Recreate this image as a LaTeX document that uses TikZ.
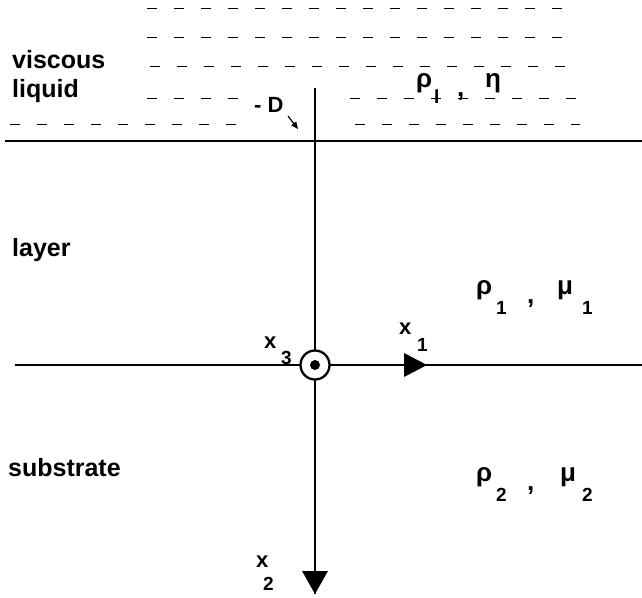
\documentclass[tikz,border=0pt]{standalone}
\usepackage{fontspec}
\setmainfont{Liberation Sans}
\usetikzlibrary{arrows.meta}
\begin{document}
\begin{tikzpicture}[x=1pt,y=-1pt,
  lbl/.style={font=\fontsize{25}{28}\selectfont\bfseries, inner sep=0pt, anchor=base west},
  grk/.style={font=\fontsize{26}{30}\selectfont\bfseries, inner sep=0pt, anchor=base west},
  xl/.style={font=\fontsize{22}{26}\selectfont\bfseries, inner sep=0pt, anchor=base west},
  sub/.style={font=\fontsize{19}{22}\selectfont\bfseries, inner sep=0pt, anchor=base west},
  liq/.style={line width=0.9pt, dash pattern=on 10pt off 17pt},
  axis/.style={line width=1.7pt},
  tri/.style={fill=black, draw=none}]
\useasboundingbox (0,0) rectangle (642,597);
% dashed liquid rows
\coordinate (r1a) at (147,8);   \coordinate (r1b) at (577,8);
\coordinate (r2a) at (147,37);  \coordinate (r2b) at (577,37);
\coordinate (r3a) at (150,66);  \coordinate (r3b) at (582,66);
\coordinate (r4a) at (147,98);  \coordinate (r4b) at (240,98);
\coordinate (r4c) at (350,98);  \coordinate (r4d) at (577,98);
\coordinate (r5a) at (10,124);  \coordinate (r5b) at (240,124);
\coordinate (r5c) at (355,124); \coordinate (r5d) at (580,124);
\draw[liq] (r1a) -- (r1b);
\draw[liq] (r2a) -- (r2b);
\draw[liq] (r3a) -- (r3b);
\draw[liq] (r4a) -- (r4b);
\draw[liq] (r4c) -- (r4d);
\draw[liq] (r5a) -- (r5b);
\draw[liq] (r5c) -- (r5d);
% interface and axes
\coordinate (ifL) at (5,141);   \coordinate (ifR) at (642,141);
\coordinate (vTop) at (315,88); \coordinate (vBot) at (315,594);
\coordinate (hL) at (15,365);   \coordinate (hR) at (642,365);
\coordinate (O) at (315,365);
\draw[axis] (ifL) -- (ifR);
\draw[axis] (hL) -- (hR);
\draw[axis] (vTop) -- (vBot);
% arrowheads
\fill[tri] (302,571) -- (328,571) -- (315,594) -- cycle;
\fill[tri] (404,353) -- (427,365) -- (404,377) -- cycle;
% x3 symbol
\draw[line width=2.3pt, fill=white] (O) circle (14.5);
\fill (O) circle (5);
% labels
\node[lbl] (visc) at (12,68) {viscous};
\node[lbl] (liq) at (12,97) {liquid};
\node[lbl] (layer) at (12,256) {layer};
\node[lbl] (subs) at (8,476) {substrate};
\node[xl] (D) at (254,112) {- D};
\coordinate (Da) at (288,116);
\coordinate (Db) at (298,129);
\draw[line width=1.2pt, -{Triangle[length=7pt,width=6pt]}] (Da) -- (Db);
% liquid parameters
\node[grk] (rhol) at (416,87) {ρ};
\node[sub] (l) at (434,103) {l};
\node[grk] (cm0) at (457,96) {,};
\node[grk] (eta) at (485,87) {η};
% layer
\node[grk] (rho1) at (476,294) {ρ};
\node[sub] (s1) at (496,314) {1};
\node[grk] (cm1) at (527,303) {,};
\node[grk] (mu1) at (557,294) {μ};
\node[sub] (s1b) at (582,314) {1};
% substrate
\node[grk] (rho2) at (476,481) {ρ};
\node[sub] (s2) at (496,501) {2};
\node[grk] (cm2) at (527,490) {,};
\node[grk] (mu2) at (560,481) {μ};
\node[sub] (s2b) at (582,501) {2};
% axis labels
\node[xl] (x3) at (264,348) {x};
\node[sub] (s3) at (281,364) {3};
\node[xl] (x1) at (399,334) {x};
\node[sub] (s1c) at (417,351) {1};
\node[xl] (x2) at (256,567) {x};
\node[sub] (s2c) at (263,590) {2};
\end{tikzpicture}
\end{document}
